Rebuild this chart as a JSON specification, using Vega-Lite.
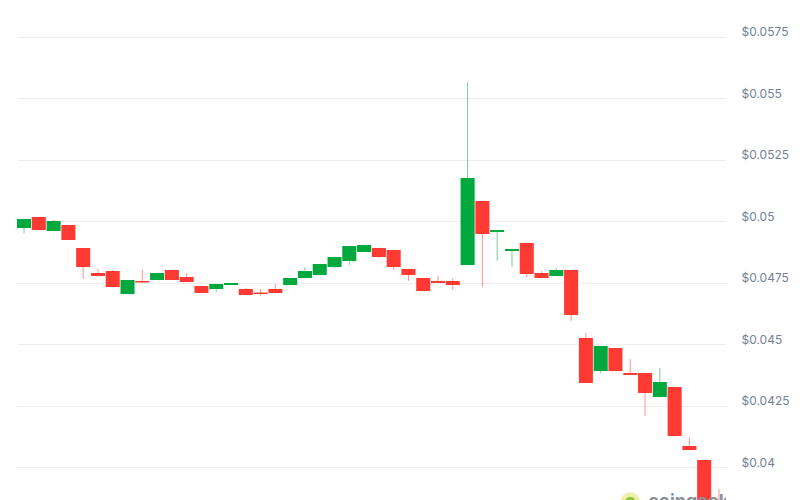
{
  "$schema": "https://vega.github.io/schema/vega-lite/v6.json",
  "width": 709,
  "height": 500,
  "padding": {"left": 17, "top": 0, "right": 0, "bottom": 0},
  "background": "#ffffff",
  "config": {"view": {"stroke": null}},
  "datasets": {
    "candles": [
      {"i": 1, "o": 0.049715, "h": 0.050081, "l": 0.049512, "c": 0.050081},
      {"i": 2, "o": 0.050163, "h": 0.050163, "l": 0.049634, "c": 0.049634},
      {"i": 3, "o": 0.049593, "h": 0.050041, "l": 0.049593, "c": 0.05},
      {"i": 4, "o": 0.049837, "h": 0.049837, "l": 0.049228, "c": 0.049228},
      {"i": 5, "o": 0.048902, "h": 0.048902, "l": 0.047642, "c": 0.04813},
      {"i": 6, "o": 0.047886, "h": 0.048049, "l": 0.047764, "c": 0.047764},
      {"i": 7, "o": 0.047967, "h": 0.048008, "l": 0.047317, "c": 0.047317},
      {"i": 8, "o": 0.047033, "h": 0.047602, "l": 0.047033, "c": 0.047602},
      {"i": 9, "o": 0.047561, "h": 0.048008, "l": 0.0475, "c": 0.0475},
      {"i": 10, "o": 0.047602, "h": 0.047886, "l": 0.047602, "c": 0.047886},
      {"i": 11, "o": 0.048008, "h": 0.048008, "l": 0.047602, "c": 0.047602},
      {"i": 12, "o": 0.047724, "h": 0.047886, "l": 0.04752, "c": 0.04752},
      {"i": 13, "o": 0.047358, "h": 0.047358, "l": 0.047073, "c": 0.047073},
      {"i": 14, "o": 0.047236, "h": 0.047439, "l": 0.047114, "c": 0.047439},
      {"i": 15, "o": 0.047398, "h": 0.04748, "l": 0.047398, "c": 0.04748},
      {"i": 16, "o": 0.047236, "h": 0.047276, "l": 0.046992, "c": 0.046992},
      {"i": 17, "o": 0.047093, "h": 0.047236, "l": 0.046972, "c": 0.047033},
      {"i": 18, "o": 0.047236, "h": 0.047439, "l": 0.047073, "c": 0.047073},
      {"i": 19, "o": 0.047398, "h": 0.047683, "l": 0.047398, "c": 0.047683},
      {"i": 20, "o": 0.047683, "h": 0.04813, "l": 0.047683, "c": 0.047967},
      {"i": 21, "o": 0.047805, "h": 0.048252, "l": 0.047805, "c": 0.048252},
      {"i": 22, "o": 0.04813, "h": 0.048537, "l": 0.048089, "c": 0.048537},
      {"i": 23, "o": 0.048374, "h": 0.048984, "l": 0.048211, "c": 0.048984},
      {"i": 24, "o": 0.04874, "h": 0.049024, "l": 0.04874, "c": 0.049024},
      {"i": 25, "o": 0.048902, "h": 0.048902, "l": 0.048496, "c": 0.048537},
      {"i": 26, "o": 0.048821, "h": 0.048821, "l": 0.048008, "c": 0.04813},
      {"i": 27, "o": 0.048049, "h": 0.048049, "l": 0.047561, "c": 0.047805},
      {"i": 28, "o": 0.047683, "h": 0.047683, "l": 0.047154, "c": 0.047154},
      {"i": 29, "o": 0.047561, "h": 0.047764, "l": 0.04748, "c": 0.04748},
      {"i": 30, "o": 0.047561, "h": 0.047683, "l": 0.047195, "c": 0.047398},
      {"i": 31, "o": 0.048211, "h": 0.05565, "l": 0.048211, "c": 0.051748},
      {"i": 32, "o": 0.050813, "h": 0.050813, "l": 0.047317, "c": 0.049472},
      {"i": 33, "o": 0.049553, "h": 0.049634, "l": 0.048374, "c": 0.049634},
      {"i": 34, "o": 0.04878, "h": 0.048862, "l": 0.04813, "c": 0.048862},
      {"i": 35, "o": 0.049106, "h": 0.049106, "l": 0.047724, "c": 0.047846},
      {"i": 36, "o": 0.047886, "h": 0.047967, "l": 0.047683, "c": 0.047683},
      {"i": 37, "o": 0.047764, "h": 0.048089, "l": 0.047764, "c": 0.048008},
      {"i": 38, "o": 0.048008, "h": 0.048008, "l": 0.045935, "c": 0.046179},
      {"i": 39, "o": 0.045244, "h": 0.045447, "l": 0.043415, "c": 0.043415},
      {"i": 40, "o": 0.043902, "h": 0.044919, "l": 0.043821, "c": 0.044919},
      {"i": 41, "o": 0.044837, "h": 0.044837, "l": 0.043902, "c": 0.043902},
      {"i": 42, "o": 0.043821, "h": 0.04439, "l": 0.04374, "c": 0.04374},
      {"i": 43, "o": 0.043821, "h": 0.043821, "l": 0.042073, "c": 0.043008},
      {"i": 44, "o": 0.042846, "h": 0.044024, "l": 0.042846, "c": 0.043455},
      {"i": 45, "o": 0.043252, "h": 0.043252, "l": 0.04126, "c": 0.04126},
      {"i": 46, "o": 0.040854, "h": 0.04122, "l": 0.040691, "c": 0.040691},
      {"i": 47, "o": 0.040285, "h": 0.040285, "l": 0.0375, "c": 0.0378},
      {"i": 48, "o": 0.0385, "h": 0.039106, "l": 0.0368, "c": 0.037}
    ],
    "mark": [
      {"i": 42, "v": 0.038577, "t": "coingecko"}
    ]
  },
  "encoding": {
    "x": {
      "field": "i",
      "type": "ordinal",
      "axis": null,
      "scale": {"paddingInner": 0.05, "paddingOuter": 0}
    }
  },
  "layer": [
    {
      "data": {"name": "candles"},
      "mark": {"type": "rule", "strokeWidth": 1, "opacity": 0.55, "clip": true},
      "encoding": {
        "y": {
          "field": "l",
          "type": "quantitative",
          "scale": {"domain": [0.038659, 0.058984], "nice": false, "zero": false},
          "axis": {
            "orient": "right",
            "values": [0.04, 0.0425, 0.045, 0.0475, 0.05, 0.0525, 0.055, 0.0575],
            "labelExpr": "'$' + datum.value",
            "title": null,
            "domain": false,
            "ticks": false,
            "grid": true,
            "gridColor": "#eeeeee",
            "gridWidth": 1,
            "labelPadding": 15,
            "labelBaseline": "alphabetic",
            "labelOffset": -1,
            "labelFont": "Inter",
            "labelFontSize": 12,
            "labelColor": "#768195"
          }
        },
        "y2": {"field": "h"},
        "color": {
          "condition": {"test": "datum.c >= datum.o", "value": "#00a83e"},
          "value": "#ff3a33"
        }
      }
    },
    {
      "data": {"name": "candles"},
      "mark": {"type": "bar", "clip": true},
      "encoding": {
        "y": {"field": "o", "type": "quantitative"},
        "y2": {"field": "c"},
        "color": {
          "condition": {"test": "datum.c >= datum.o", "value": "#00a83e"},
          "value": "#ff3a33"
        }
      }
    },
    {
      "data": {"name": "mark"},
      "mark": {"type": "point", "filled": true, "size": 380, "color": "#eef0a8", "opacity": 1, "clip": true},
      "encoding": {"y": {"field": "v", "type": "quantitative"}}
    },
    {
      "data": {"name": "mark"},
      "mark": {"type": "point", "filled": true, "size": 110, "color": "#8cc63f", "opacity": 1, "clip": true},
      "encoding": {"y": {"field": "v", "type": "quantitative"}}
    },
    {
      "data": {"name": "mark"},
      "mark": {"type": "text", "align": "left", "baseline": "alphabetic", "dx": 18, "dy": 5, "fontSize": 18, "fontWeight": "bold", "font": "Inter", "color": "#8a8f98", "clip": true},
      "encoding": {"y": {"field": "v", "type": "quantitative"}, "text": {"field": "t"}}
    }
  ]
}
